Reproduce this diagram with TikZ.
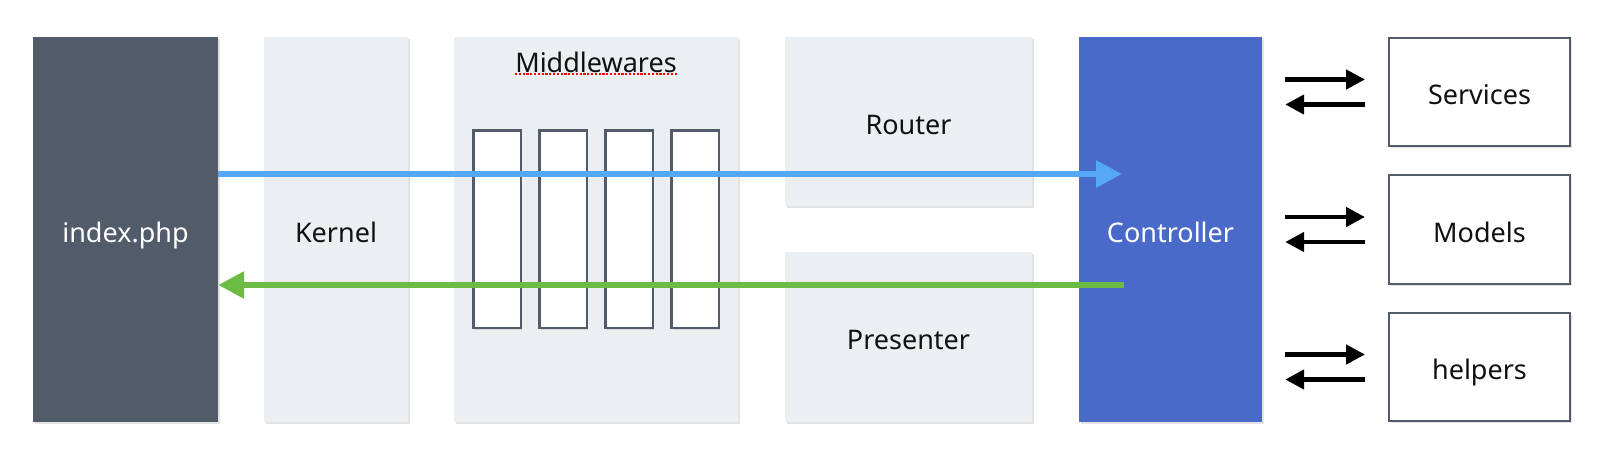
\documentclass[tikz,border=0pt]{standalone}
\usepackage{fontspec}
\setmainfont{Noto Sans}
\usetikzlibrary{arrows.meta,shadows}
\definecolor{darkpanel}{HTML}{525B69}
\definecolor{lightpanel}{HTML}{ECEFF2}
\definecolor{ctrlblue}{HTML}{4A6ACA}
\definecolor{flowblue}{HTML}{55A8F5}
\definecolor{flowgreen}{HTML}{6CBB45}
\definecolor{txt}{HTML}{111111}
\tikzset{
  panelshadow/.style={drop shadow={opacity=0.22,shadow xshift=1.5pt,shadow yshift=-2pt}},
  panel/.style={rectangle,inner sep=0pt,panelshadow,font=\fontsize{27}{32}\selectfont,text=txt,text height=30pt,text depth=5pt},
  lightbox/.style={panel,fill=lightpanel},
  darkbox/.style={panel,fill=darkpanel,text=white},
  ctrlbox/.style={panel,fill=ctrlblue,text=white},
  mwbox/.style={rectangle,inner sep=0pt,draw=darkpanel,line width=2.5pt,fill=white,panelshadow,minimum width=47.5pt,minimum height=197.5pt},
  sidebox/.style={panel,draw=darkpanel,line width=2pt,fill=white,minimum width=181pt},
  flow/.style={line width=6pt,-{Triangle[length=26pt,width=26pt]}},
  blk/.style={line width=4.5pt,-{Triangle[length=19pt,width=19pt]},shorten <=23pt,shorten >=23pt},
}
\begin{document}
\begin{tikzpicture}[x=1pt,y=-1pt]
\useasboundingbox (0,0) rectangle (1604,458);
\fill[white] (0,0) rectangle (1604,458);
% panels
\node[darkbox,minimum width=185pt,minimum height=385pt] (index) at (125.5,229.5) {index.php};
\node[lightbox,minimum width=144pt,minimum height=385pt] (kernel) at (336,229.5) {Kernel};
\node[lightbox,minimum width=284pt,minimum height=385pt] (mw) at (596,229.5) {};
\node[font=\fontsize{27}{32}\selectfont,text=txt,inner sep=0pt] (mwlabel) at (596,62) {Middlewares};
\draw[red,line width=2.4pt,dash pattern=on 2.2pt off 1.6pt] (mwlabel.south west |- 0,74) -- (mwlabel.south east |- 0,74);
\node[lightbox,minimum width=247pt,minimum height=169pt] (router) at (908.5,121.5) {Router};
\node[lightbox,minimum width=247pt,minimum height=170pt] (presenter) at (908.5,337) {Presenter};
\node[ctrlbox,minimum width=183pt,minimum height=385pt] (ctrl) at (1170.5,229.5) {Controller};
% middleware boxes
\node[mwbox] (m1) at (497,229) {};
\node[mwbox] (m2) at (563,229) {};
\node[mwbox] (m3) at (629,229) {};
\node[mwbox] (m4) at (695,229) {};
% side boxes
\node[sidebox,minimum height=108pt] (services) at (1479.5,92) {Services};
\node[sidebox,minimum height=109pt] (models) at (1479.5,229.5) {Models};
\node[sidebox,minimum height=108pt] (helpers) at (1479.5,367) {helpers};
% flows
\coordinate (bluetip) at (1122,174);
\coordinate (greenstart) at (1124,285);
\draw[flow,flowblue] (index.east |- bluetip) -- (bluetip);
\draw[flow,flowgreen] (greenstart) -- (index.east |- greenstart);
% side arrows
\foreach \b in {services,models,helpers}{
  \coordinate (\b-r) at ([yshift=12.5pt]\b.west);
  \coordinate (\b-l) at ([yshift=-12.5pt]\b.west);
  \draw[blk] (ctrl.east |- \b-r) -- (\b-r);
  \draw[blk] (\b-l) -- (ctrl.east |- \b-l);
}
\end{tikzpicture}
\end{document}
